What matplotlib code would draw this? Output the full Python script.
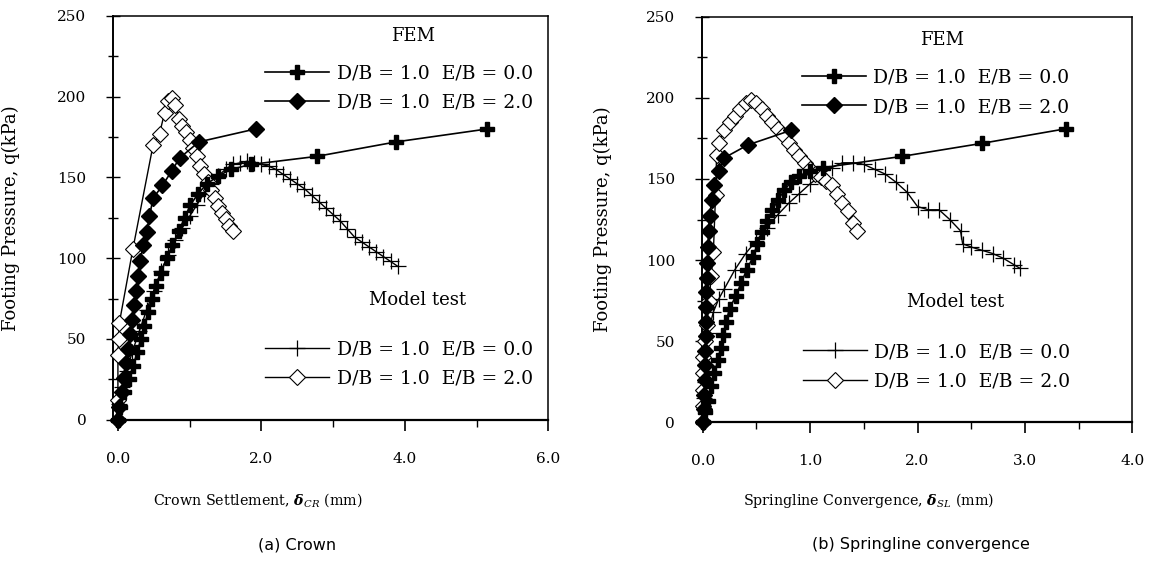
import matplotlib.pyplot as plt
from matplotlib.lines import Line2D
from matplotlib.ticker import MultipleLocator

plt.rcParams['font.family'] = ['DejaVu Serif']
plt.rcParams['mathtext.fontset'] = 'dejavuserif'

# ---- (a) crown settlement data ----
crown_fem0_x = [0.0, 0.03, 0.09, 0.15, 0.21, 0.27, 0.32, 0.37, 0.42, 0.47, 0.53, 0.60, 0.68,
                0.76, 0.85, 0.93, 1.01, 1.12, 1.24, 1.40, 1.58, 1.85, 2.77, 3.88, 5.15]
crown_fem0_y = [0, 8, 17, 25, 33, 42, 50, 58, 67, 75, 83, 91, 100,
                108, 117, 125, 133, 140, 146, 151, 155, 158, 163, 172, 180]

crown_fem2_x = [0.0, 0.02, 0.05, 0.08, 0.11, 0.14, 0.17, 0.19, 0.22, 0.25, 0.28, 0.31, 0.35,
                0.40, 0.44, 0.49, 0.62, 0.75, 0.86, 1.13, 1.92]
crown_fem2_y = [0, 8, 17, 26, 35, 44, 53, 62, 71, 80, 89, 98, 108,
                116, 126, 137, 145, 154, 162, 172, 180]

crown_test0_x = [0.0, 0.02, 0.06, 0.12, 0.2, 0.3, 0.4, 0.5, 0.6, 0.7, 0.8, 0.9, 1.0, 1.1,
                 1.2, 1.3, 1.4, 1.5, 1.6, 1.7, 1.8, 1.9, 2.0, 2.1, 2.2, 2.3, 2.4, 2.5,
                 2.6, 2.7, 2.8, 2.9, 3.0, 3.1, 3.2, 3.3, 3.4, 3.5, 3.6, 3.7, 3.8, 3.9]
crown_test0_y = [0, 10, 20, 30, 42, 55, 68, 80, 92, 102, 111, 119, 126, 133,
                 140, 146, 151, 155, 158, 159, 160, 159, 158, 157, 155, 152, 149, 146,
                 143, 139, 135, 131, 127, 123, 118, 113, 110, 107, 104, 101, 98, 95]

crown_test2_x = [0.0, 0.0, 0.0, 0.01, 0.02, 0.21, 0.49, 0.58, 0.65, 0.70, 0.75, 0.80,
                 0.85, 0.90, 0.95, 1.00, 1.05, 1.10, 1.15, 1.20, 1.25, 1.30, 1.35,
                 1.40, 1.45, 1.50, 1.55, 1.60]
crown_test2_y = [0, 12, 40, 50, 60, 106, 170, 177, 190, 197, 199, 195,
                 186, 182, 178, 173, 168, 163, 157, 152, 147, 142, 137,
                 132, 128, 124, 120, 117]

# ---- (b) springline convergence data ----
spring_fem0_x = [0.0, 0.02, 0.05, 0.08, 0.11, 0.14, 0.17, 0.19, 0.22, 0.25, 0.31, 0.36, 0.41,
                 0.47, 0.51, 0.55, 0.60, 0.65, 0.70, 0.76, 0.82, 0.90, 1.00, 1.12, 1.86,
                 2.60, 3.38]
spring_fem0_y = [0, 6, 13, 22, 30, 38, 46, 54, 62, 70, 78, 86, 94,
                 102, 110, 117, 124, 131, 137, 143, 148, 152, 155, 157, 164,
                 172, 181]

spring_fem2_x = [0.0, 0.01, 0.015, 0.02, 0.022, 0.025, 0.028, 0.03, 0.032, 0.035, 0.04,
                 0.045, 0.05, 0.055, 0.065, 0.085, 0.11, 0.15, 0.20, 0.42, 0.82]
spring_fem2_y = [0, 8, 17, 26, 35, 44, 53, 62, 71, 80, 89,
                 98, 108, 118, 127, 137, 146, 155, 163, 171, 180]

spring_test0_x = [0.0, 0.01, 0.03, 0.05, 0.1, 0.15, 0.2, 0.3, 0.4, 0.5, 0.6, 0.7, 0.8, 0.9,
                  1.0, 1.1, 1.2, 1.3, 1.4, 1.5, 1.6, 1.7, 1.8, 1.9, 2.0, 2.1, 2.2, 2.3,
                  2.4, 2.42, 2.5, 2.6, 2.7, 2.8, 2.9, 2.95]
spring_test0_y = [0, 15, 35, 55, 68, 76, 82, 94, 104, 112, 120, 128, 135, 141,
                  147, 152, 157, 160, 160, 159, 156, 153, 148, 142, 133, 131, 131, 125,
                  118, 110, 108, 106, 104, 101, 97, 95]

spring_test2_x = [0.0, 0.0, 0.0, 0.0, 0.0, 0.02, 0.04, 0.06, 0.08, 0.10, 0.12, 0.13, 0.15,
                  0.20, 0.25, 0.30, 0.35, 0.40, 0.45, 0.50, 0.55, 0.60, 0.65, 0.70, 0.75,
                  0.80, 0.85, 0.90, 0.95, 1.00, 1.05, 1.10, 1.15, 1.20, 1.25, 1.30,
                  1.35, 1.40, 1.44]
spring_test2_y = [0, 10, 20, 30, 40, 50, 60, 75, 90, 105, 140, 165, 172,
                  180, 185, 189, 193, 197, 199, 197, 193, 189, 185, 181, 177,
                  172, 168, 164, 160, 156, 153, 151, 149, 146, 141, 135,
                  130, 123, 118]

fem_labels = ['D/B = 1.0  E/B = 0.0', 'D/B = 1.0  E/B = 2.0']
test_labels = ['D/B = 1.0  E/B = 0.0', 'D/B = 1.0  E/B = 2.0']

fem0_style = dict(color='black', lw=1.2, marker='P', ms=10, mfc='black', mec='black')
fem2_style = dict(color='black', lw=1.2, marker='D', ms=8, mfc='black', mec='black')
test0_style = dict(color='black', lw=1.0, marker='+', ms=11, mew=0.9)
test2_style = dict(color='black', lw=1.0, marker='D', ms=8, mfc='white', mec='black', mew=0.8)


def setup_axes(ax, xmax, xmajor, xminor, xmin, label_x):
    ax.set_xlim(xmin, xmax)
    ax.set_ylim(0, 250)
    ax.xaxis.set_major_locator(MultipleLocator(xmajor))
    ax.xaxis.set_minor_locator(MultipleLocator(xminor))
    ax.yaxis.set_major_locator(MultipleLocator(50))
    ax.yaxis.set_minor_locator(MultipleLocator(25))
    ax.xaxis.set_major_formatter(lambda v, p: '%.1f' % v)
    ax.tick_params(axis='x', which='major', direction='out', length=8, width=1.2,
                   labelsize=11, pad=15)
    ax.tick_params(axis='x', which='minor', direction='out', length=5, width=1.0)
    ax.tick_params(axis='y', which='major', direction='inout', length=10, width=1.0,
                   labelsize=11, pad=14)
    ax.tick_params(axis='y', which='minor', direction='inout', length=7, width=1.0)
    for s in ax.spines.values():
        s.set_linewidth(1.1)
    ax.spines['bottom'].set_linewidth(1.6)
    ax.spines['left'].set_linewidth(1.4)
    ax.set_ylabel('Footing Pressure, q(kPa)', fontsize=13)
    ax.yaxis.set_label_coords(label_x, 0.5)


def draw_panel(ax, f0x, f0y, f2x, f2y, t0x, t0y, t2x, t2y):
    ax.plot(t0x, t0y, clip_on=False, zorder=3, **test0_style)
    ax.plot(t2x, t2y, clip_on=False, zorder=3, **test2_style)
    ax.plot(f0x, f0y, clip_on=False, zorder=4, **fem0_style)
    ax.plot(f2x, f2y, clip_on=False, zorder=4, **fem2_style)


def add_legends(ax, fem_xy, fem_title_xy, test_xy, test_title_xy):
    h_fem = [Line2D([], [], **fem0_style), Line2D([], [], **fem2_style)]
    h_test = [Line2D([], [], **test0_style), Line2D([], [], **test2_style)]
    opts = dict(loc='upper left', frameon=False, fontsize=13.5, handlelength=3.4,
                handletextpad=0.4, borderpad=0, borderaxespad=0, labelspacing=0.6)
    leg1 = ax.legend(h_fem, fem_labels, bbox_to_anchor=fem_xy, **opts)
    ax.add_artist(leg1)
    ax.legend(h_test, test_labels, bbox_to_anchor=test_xy, **opts)
    ax.text(*fem_title_xy, 'FEM', transform=ax.transAxes, fontsize=13, ha='center', va='center')
    ax.text(*test_title_xy, 'Model test', transform=ax.transAxes, fontsize=13,
            ha='center', va='center')


fig = plt.figure(figsize=(11.52, 5.65), dpi=100)

ax1 = fig.add_axes([0.098, 0.257, 0.378, 0.715])
setup_axes(ax1, 6.0, 2.0, 1.0, -0.07, -0.214)
draw_panel(ax1, crown_fem0_x, crown_fem0_y, crown_fem2_x, crown_fem2_y,
           crown_test0_x, crown_test0_y, crown_test2_x, crown_test2_y)
add_legends(ax1, (0.35, 0.879), (0.69, 0.95), (0.35, 0.196), (0.70, 0.297))

ax2 = fig.add_axes([0.609, 0.253, 0.374, 0.717])
setup_axes(ax2, 4.0, 1.0, 0.5, -0.01, -0.209)
draw_panel(ax2, spring_fem0_x, spring_fem0_y, spring_fem2_x, spring_fem2_y,
           spring_test0_x, spring_test0_y, spring_test2_x, spring_test2_y)
add_legends(ax2, (0.233, 0.872), (0.557, 0.943), (0.235, 0.195), (0.59, 0.296))

fig.text(258 / 1152, 1 - 500 / 565, r'Crown Settlement, $\boldsymbol{\delta}_{CR}$ (mm)',
         fontsize=10.3, ha='center', va='center')
fig.text(868 / 1152, 1 - 500 / 565, r'Springline Convergence, $\boldsymbol{\delta}_{SL}$ (mm)',
         fontsize=10.3, ha='center', va='center')
fig.text(297 / 1152, 1 - 545 / 565, '(a) Crown', fontsize=11.5, ha='center', va='center',
         family=['DejaVu Sans'])
fig.text(921 / 1152, 1 - 545 / 565, '(b) Springline convergence', fontsize=11.5,
         ha='center', va='center', family=['DejaVu Sans'])

fig.savefig('out.png', dpi=100)
